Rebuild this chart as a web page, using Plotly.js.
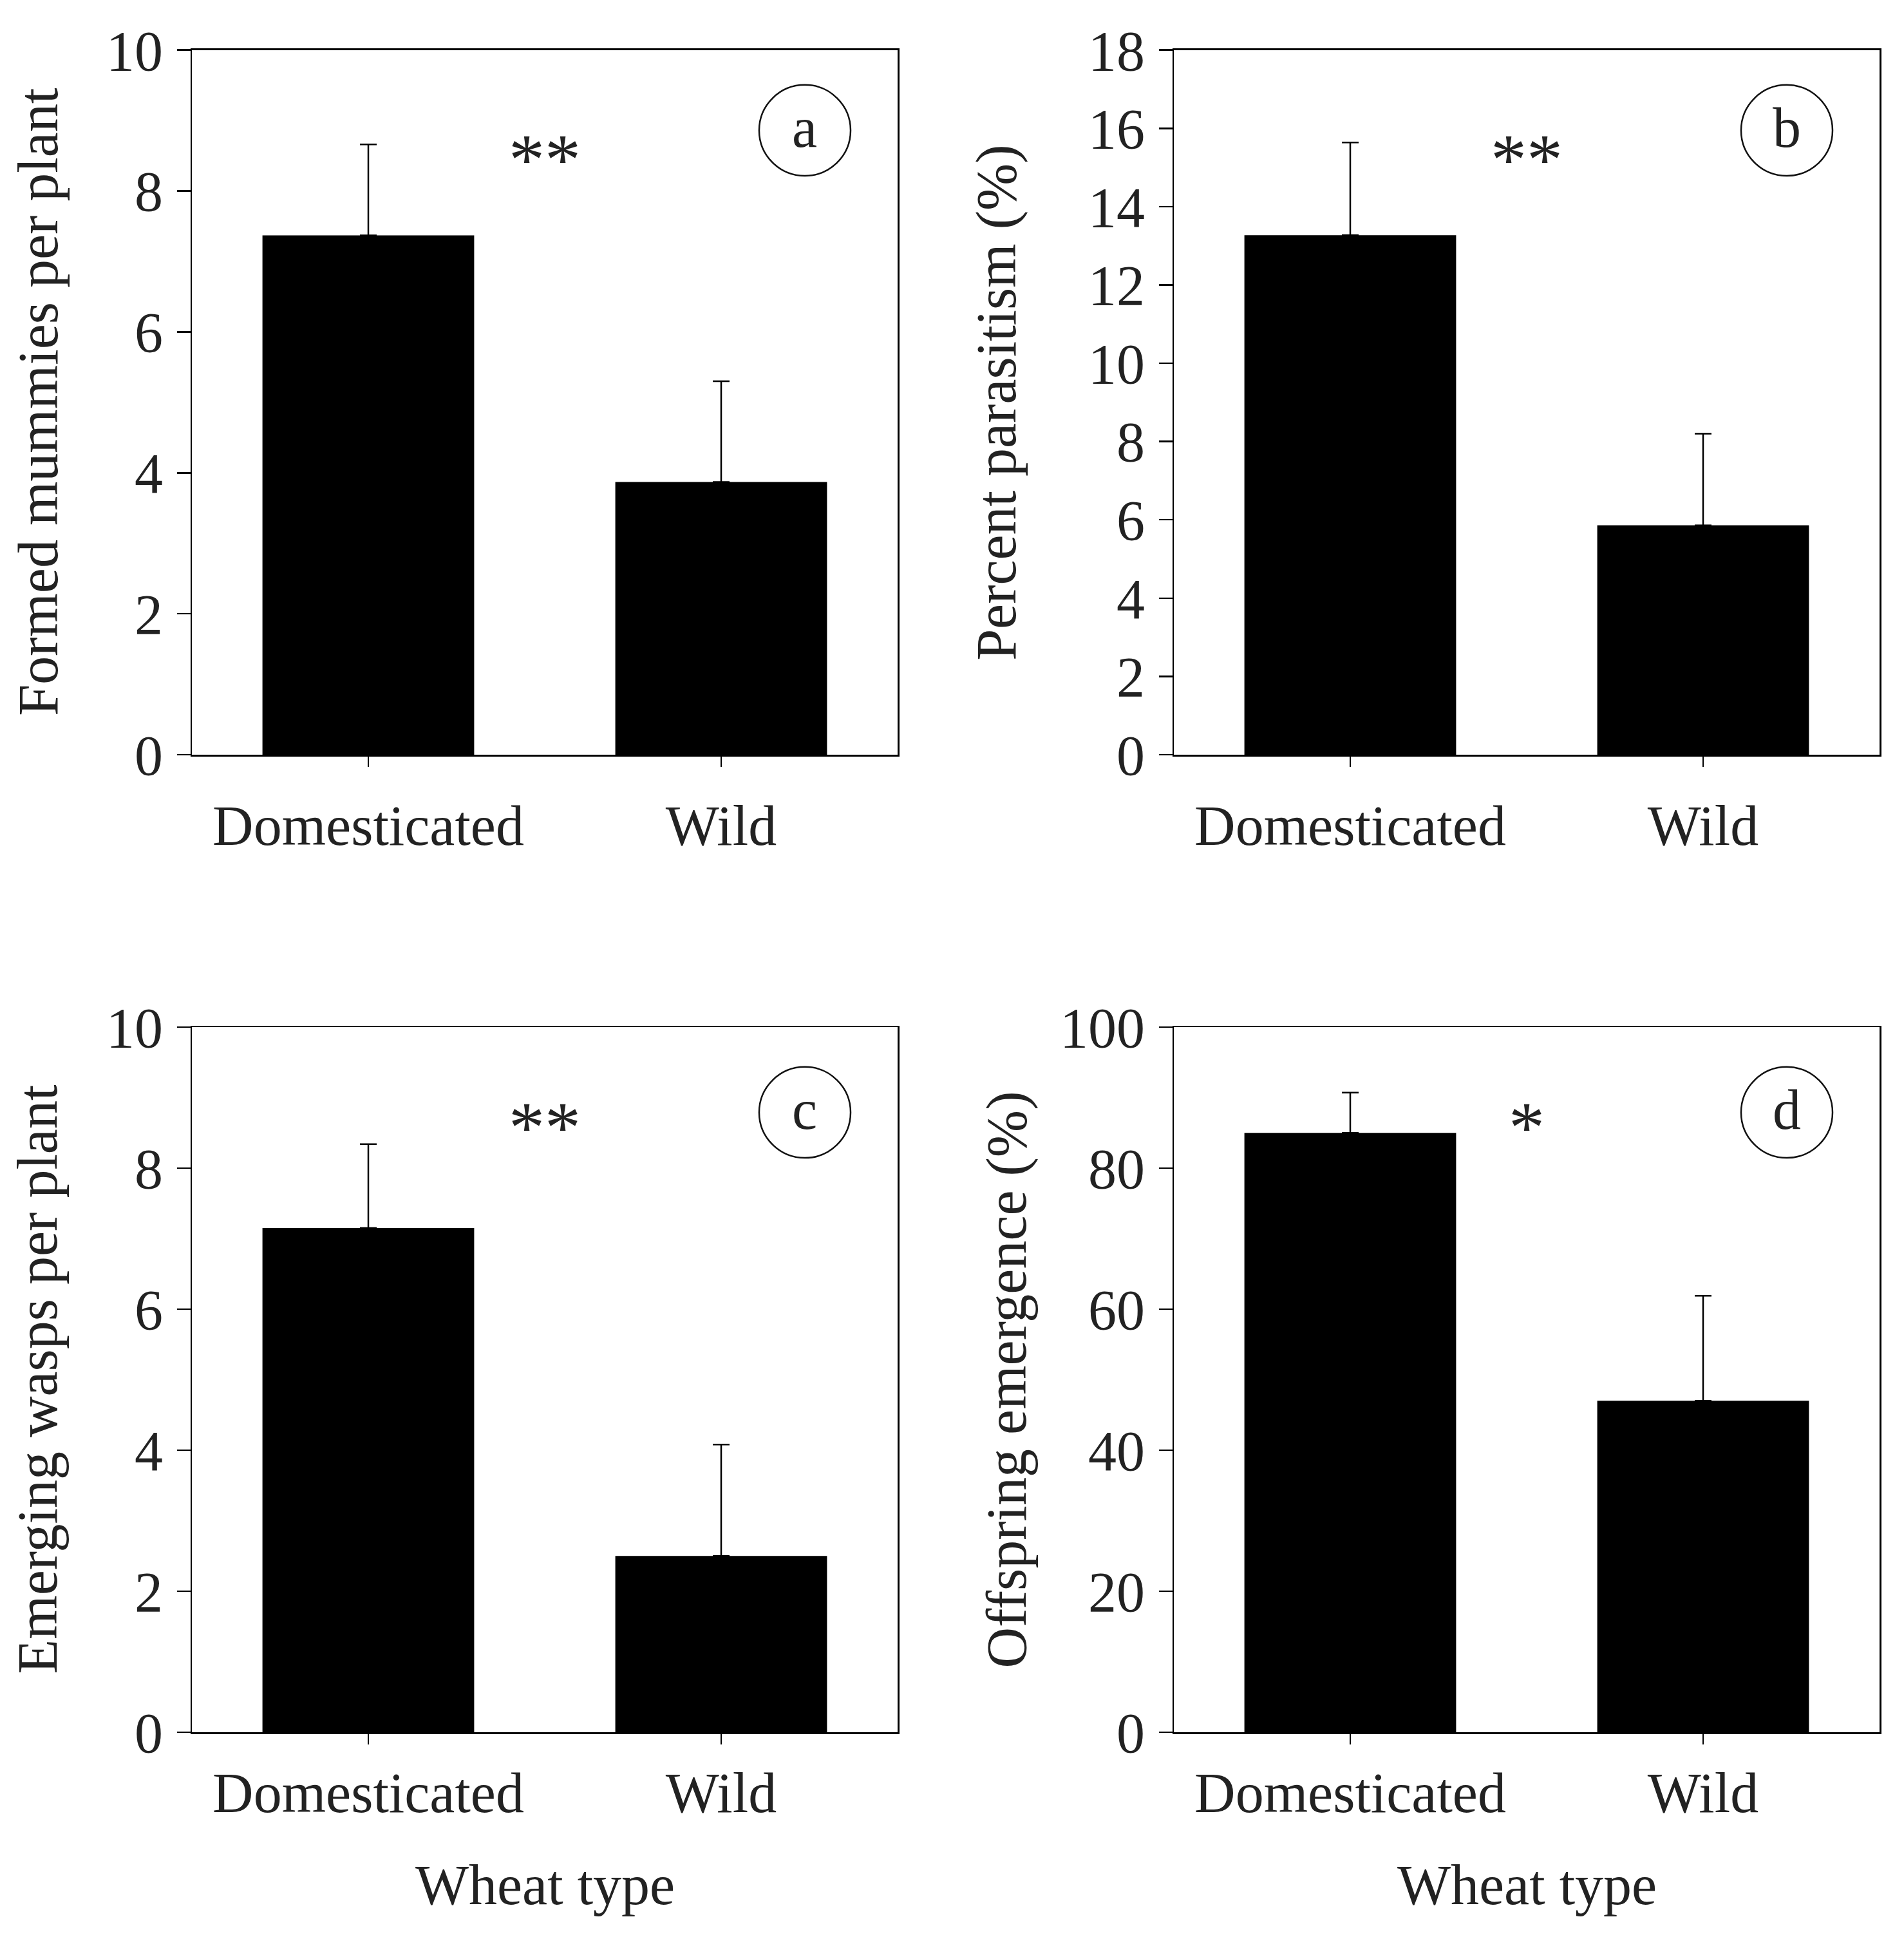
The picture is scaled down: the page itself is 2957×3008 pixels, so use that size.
<!DOCTYPE html>
<html>
<head>
<meta charset="utf-8">
<script src="https://cdn.plot.ly/plotly-3.0.1.min.js"></script>
<style>
  body { margin: 0; background: #fff; }
  #chart { width: 2957px; height: 3008px; }
</style>
</head>
<body>
<div id="chart"></div>
<script>
// wheat type on the x axis
var categories = ['Domesticated', 'Wild'];

// panel a: formed mummies per plant (mean, upper error)
var mummies = [7.37, 3.87];
var mummiesErr = [1.29, 1.43];

// panel b: percent parasitism
var parasitism = [13.27, 5.86];
var parasitismErr = [2.37, 2.34];

// panel c: emerging wasps per plant
var wasps = [7.15, 2.50];
var waspsErr = [1.19, 1.58];

// panel d: offspring emergence (%)
var emergence = [85.0, 47.0];
var emergenceErr = [5.7, 14.9];

var yTitles = ['Formed mummies per plant', 'Percent parasitism (%)',
               'Emerging wasps per plant', 'Offspring emergence (%)'];
var panelLetters = ['a', 'b', 'c', 'd'];
var signif = ['**', '**', '**', '*'];
var yMax = [10, 18, 10, 100];
var yStep = [2, 2, 2, 20];

var W = 2957, H = 3008;
var FONT = 'Liberation Serif, Times New Roman, serif';
var TXT = '#222';
var FS = 88;

var means = [mummies, parasitism, wasps, emergence];
var errs = [mummiesErr, parasitismErr, waspsErr, emergenceErr];

// pixel boxes of the four plot areas
var xDom = [[298 / W, 1394 / W], [1823 / W, 2919 / W]];
var yDom = [[1 - 1172 / H, 1 - 77.7 / H], [1 - 2690 / H, 1 - 1595 / H]];

var data = [];
var layout = {
  width: W, height: H,
  margin: {l: 0, r: 0, t: 0, b: 0},
  paper_bgcolor: '#fff', plot_bgcolor: '#fff',
  showlegend: false,
  bargap: 0.4,
  font: {family: FONT, size: FS, color: TXT},
  shapes: [], annotations: []
};

// y-title centre x (px) and letter-circle / star y positions (domain)
var titleX = [60, 1548, 58, 1563];
var circleY = [0.886, 0.886, 0.879, 0.879];
var starY = [0.845, 0.845, 0.858, 0.858];

for (var i = 0; i < 4; i++) {
  var col = i % 2, row = Math.floor(i / 2);
  var n = i === 0 ? '' : String(i + 1);
  var xa = 'x' + n, ya = 'y' + n;

  data.push({
    type: 'bar', x: categories, y: means[i],
    xaxis: xa, yaxis: ya,
    marker: {color: '#000', line: {width: 0}},
    error_y: {
      type: 'data', symmetric: false,
      array: errs[i], arrayminus: [0, 0],
      color: '#000', thickness: 2.5, width: 13
    },
    hoverinfo: 'skip'
  });

  layout['xaxis' + n] = {
    domain: xDom[col], anchor: ya,
    type: 'category', range: [-0.5, 1.5],
    showline: true, linecolor: '#000', linewidth: 2.5, mirror: true,
    ticks: 'outside', ticklen: 16, tickwidth: 2.5, tickcolor: '#000',
    ticklabelstandoff: row === 0 ? 16 : 0,
    tickfont: {family: FONT, size: FS, color: TXT},
    showgrid: false, zeroline: false, fixedrange: true
  };
  layout['yaxis' + n] = {
    domain: yDom[row], anchor: xa,
    range: [0, yMax[i]], dtick: yStep[i], tick0: 0,
    showline: true, linecolor: '#000', linewidth: 2.5, mirror: true,
    ticks: 'outside', ticklen: 21, tickwidth: 2.5, tickcolor: '#000',
    ticklabelstandoff: 4,
    tickfont: {family: FONT, size: FS, color: TXT},
    showgrid: false, zeroline: false, fixedrange: true
  };

  // circled panel letter
  layout.shapes.push({
    type: 'circle', xref: xa + ' domain', yref: ya + ' domain',
    x0: 0.8686 - 0.0648, x1: 0.8686 + 0.0648,
    y0: circleY[i] - 0.0645, y1: circleY[i] + 0.0645,
    line: {color: '#111', width: 2.5}
  });
  layout.annotations.push({
    xref: xa + ' domain', yref: ya + ' domain',
    x: 0.8686, y: circleY[i] + 0.004, xanchor: 'center', yanchor: 'middle',
    text: panelLetters[i], showarrow: false,
    font: {family: FONT, size: FS, color: TXT}
  });

  // significance stars
  layout.annotations.push({
    xref: xa + ' domain', yref: ya + ' domain',
    x: 0.5, y: starY[i], xanchor: 'center', yanchor: 'middle',
    text: signif[i], showarrow: false,
    font: {family: FONT, size: 112, color: TXT}
  });

  // y axis title
  layout.annotations.push({
    xref: 'paper', yref: ya + ' domain',
    x: titleX[i] / W, y: 0.5, xanchor: 'center', yanchor: 'middle',
    text: yTitles[i], textangle: -90, showarrow: false,
    font: {family: FONT, size: FS, color: TXT}
  });

  // x axis title on the lower panels
  if (row === 1) {
    layout.annotations.push({
      xref: xa + ' domain', yref: 'paper',
      x: 0.5, y: 1 - 2927 / H, xanchor: 'center', yanchor: 'middle',
      text: 'Wheat type', showarrow: false,
      font: {family: FONT, size: FS, color: TXT}
    });
  }
}

Plotly.newPlot('chart', data, layout, {staticPlot: true, displayModeBar: false});
</script>
</body>
</html>
